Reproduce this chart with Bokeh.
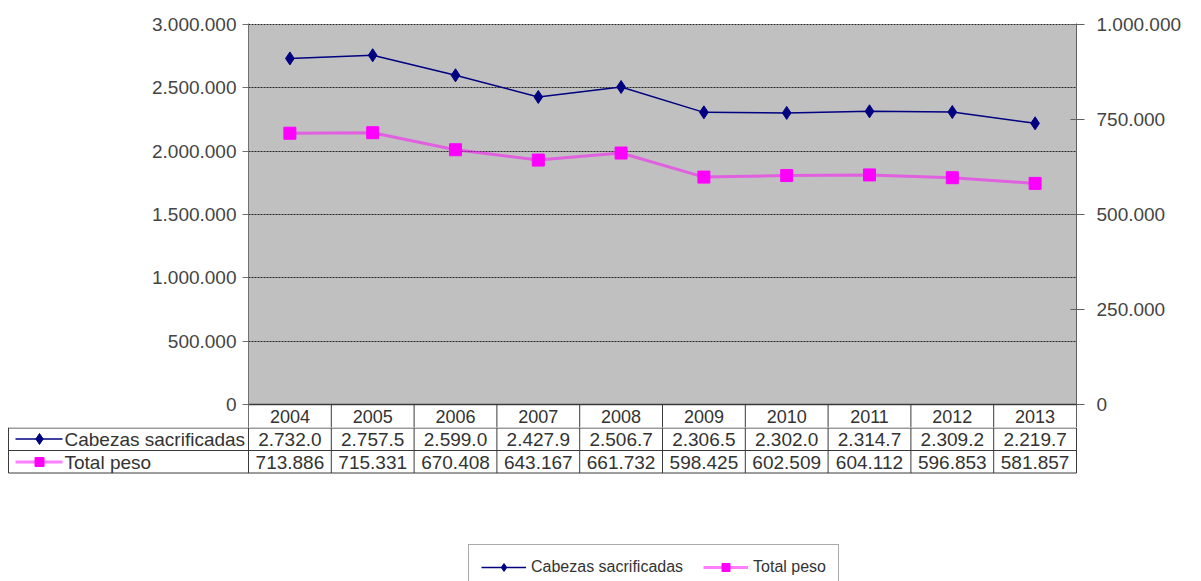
from bokeh.plotting import figure
from bokeh.layouts import column
from bokeh.models import (Range1d, LinearAxis, FixedTicker, Legend, LegendItem,
                          ColumnDataSource, BoxAnnotation, Span)
from bokeh.embed import file_html
from bokeh.resources import INLINE
from bokeh.core.properties import value

# ---------------- data ----------------
years = ["2004", "2005", "2006", "2007", "2008", "2009", "2010", "2011", "2012", "2013"]
cabezas = [2732000, 2757500, 2599000, 2427900, 2506700, 2306500, 2302000, 2314700, 2309200, 2219700]
peso = [713886, 715331, 670408, 643167, 661732, 598425, 602509, 604112, 596853, 581857]
series_names = ["Cabezas sacrificadas", "Total peso"]
left_ticks = [0, 500000, 1000000, 1500000, 2000000, 2500000, 3000000]
right_ticks = [0, 250000, 500000, 750000, 1000000]


def fmt(v):
    return f"{v:,}".replace(",", ".")


cab_labels = [fmt(v)[:7] for v in cabezas]
peso_labels = [fmt(v) for v in peso]

FONT = "Liberation Sans"
TXT = "#333333"
NAVY = "#000080"
MAG = "#ff00ff"
GRID = "#3a3a3a"

n = len(years)
xs = [i + 0.5 for i in range(n)]
src = ColumnDataSource(dict(x=xs, cab=cabezas, peso=peso, year=years,
                            cab_lbl=cab_labels, peso_lbl=peso_labels))

# ---------------- chart (with year row) ----------------
PLOT_PX = 380.0
ROW_PX = 23.0
TOP_PAD = 1.0
lmax, rmax = 3000000, 1000000
ybot = -lmax * ROW_PX / PLOT_PX
p1 = figure(width=1201, height=427, x_range=Range1d(0, n),
            y_range=Range1d(ybot, lmax * (PLOT_PX + TOP_PAD) / PLOT_PX),
            output_backend="svg", toolbar_location=None,
            x_axis_location=None, y_axis_location="left",
            min_border_left=248, min_border_right=125,
            min_border_top=23, min_border_bottom=0)
p1.frame_align = False
p1.background_fill_color = "white"
p1.border_fill_color = "white"
p1.outline_line_color = None
p1.xgrid.visible = False
p1.add_layout(BoxAnnotation(bottom=0, top=lmax, fill_color="#c0c0c0",
                            fill_alpha=1, line_color=None, level="image"))
p1.ygrid.ticker = FixedTicker(ticks=left_ticks)
p1.ygrid.grid_line_color = "#222222"
p1.ygrid.grid_line_dash = "2 1"
p1.ygrid.grid_line_width = 1

ax = p1.yaxis[0]
ax.ticker = FixedTicker(ticks=left_ticks)
ax.major_label_overrides = {v: fmt(v) for v in left_ticks}
ax.major_label_text_font = FONT
ax.major_label_text_font_size = "19px"
ax.major_label_text_color = "#444444"
ax.axis_line_color = "#707070"
ax.major_tick_line_color = "#707070"
ax.major_tick_in = 0
ax.major_tick_out = 6
ax.minor_tick_line_color = None
ax.major_label_standoff = 6

p1.extra_y_ranges = {"peso": Range1d(-rmax * ROW_PX / PLOT_PX,
                                     rmax * (PLOT_PX + TOP_PAD) / PLOT_PX)}
rax = LinearAxis(y_range_name="peso", ticker=FixedTicker(ticks=right_ticks))
rax.major_label_overrides = {v: fmt(v) for v in right_ticks}
rax.major_label_text_font = FONT
rax.major_label_text_font_size = "19px"
rax.major_label_text_color = "#444444"
rax.axis_line_color = "#606060"
rax.major_tick_line_color = "#606060"
rax.major_tick_in = 6
rax.major_tick_out = 8
rax.minor_tick_line_color = None
rax.major_label_standoff = 12
p1.add_layout(rax, "right")

p1.line("x", "cab", source=src, line_color=NAVY, line_width=1.5)
p1.scatter("x", "cab", source=src, marker="diamond", size=13,
           fill_color=NAVY, line_color=NAVY)
p1.line("x", "peso", source=src, y_range_name="peso", line_color=MAG,
        line_alpha=0.5, line_width=3)
p1.scatter("x", "peso", source=src, y_range_name="peso", marker="square",
           size=12, fill_color=MAG, line_color=MAG)

# year row
p1.add_layout(Span(location=0, dimension="width", line_color=GRID, line_width=1.5))
p1.segment(x0=list(range(1, n)), y0=[0] * (n - 1), x1=list(range(1, n)),
           y1=[ybot] * (n - 1), line_color=GRID, line_width=1)
p1.text(x="x", y=ybot / 2, text="year", source=src, text_align="center",
        text_baseline="middle", text_font=value(FONT),
        text_font_size="18px", text_color=TXT)

# ---------------- table rows + legend ----------------
COL_PX = 828.0 / n
HDR_PX = 240.0
H2 = 154
lx = -HDR_PX / COL_PX
p2 = figure(width=1201, height=H2,
            x_range=Range1d(lx - 1 / COL_PX, n + 1 / COL_PX),
            y_range=Range1d(-H2, 0),
            output_backend="svg", toolbar_location=None,
            x_axis_location=None, y_axis_location=None,
            min_border_left=7, min_border_right=124,
            min_border_top=0, min_border_bottom=0)
p2.frame_align = False
p2.grid.visible = False
p2.outline_line_color = None
p2.background_fill_color = "white"
p2.border_fill_color = "white"

r1y, r2y, r3y = -0.5, -ROW_PX, -2 * ROW_PX + 0.5
p2.segment(x0=[lx] * 3, y0=[r1y, r2y, r3y], x1=[n] * 3, y1=[r1y, r2y, r3y],
           line_color=GRID, line_width=1)
vx = [lx] + list(range(0, n + 1))
p2.segment(x0=vx, y0=[0] * len(vx), x1=vx, y1=[r3y] * len(vx),
           line_color=GRID, line_width=1)

c1 = -ROW_PX / 2
c2 = -ROW_PX * 1.5
p2.text(x="x", y=c1, text="cab_lbl", source=src, text_align="center",
        text_baseline="middle", text_font=value(FONT),
        text_font_size="19px", text_color=TXT)
p2.text(x="x", y=c2, text="peso_lbl", source=src, text_align="center",
        text_baseline="middle", text_font=value(FONT),
        text_font_size="19px", text_color=TXT)

gx0 = lx + 7 / COL_PX
gx1 = lx + 54 / COL_PX
gxm = lx + 31 / COL_PX
tx = lx + 56 / COL_PX
h1l = p2.line([gx0, gx1], [c1, c1], line_color=NAVY, line_width=1.5)
h1m = p2.scatter([gxm], [c1], marker="diamond", size=11, fill_color=NAVY, line_color=NAVY)
h2l = p2.line([gx0, gx1], [c2, c2], line_color=MAG, line_alpha=0.5, line_width=3)
h2m = p2.scatter([gxm], [c2], marker="square", size=9, fill_color=MAG, line_color=MAG)
p2.text(x=[tx, tx], y=[c1, c2], text=series_names, text_align="left",
        text_baseline="middle", text_font=value(FONT),
        text_font_size="19px", text_color=TXT)

legend = Legend(items=[LegendItem(label=series_names[0], renderers=[h1l, h1m]),
                       LegendItem(label=series_names[1], renderers=[h2l, h2m])],
                orientation="horizontal", location=(461, -9),
                label_text_font=FONT, label_text_font_size="16px",
                label_text_color=TXT, glyph_width=45, glyph_height=20,
                spacing=20, padding=12, margin=0, label_standoff=5,
                border_line_color="#555555", border_line_width=1.5,
                background_fill_color="white", background_fill_alpha=1)
p2.add_layout(legend)

layout = column(p1, p2, spacing=0)
open("out.html", "w").write(file_html(layout, INLINE))
